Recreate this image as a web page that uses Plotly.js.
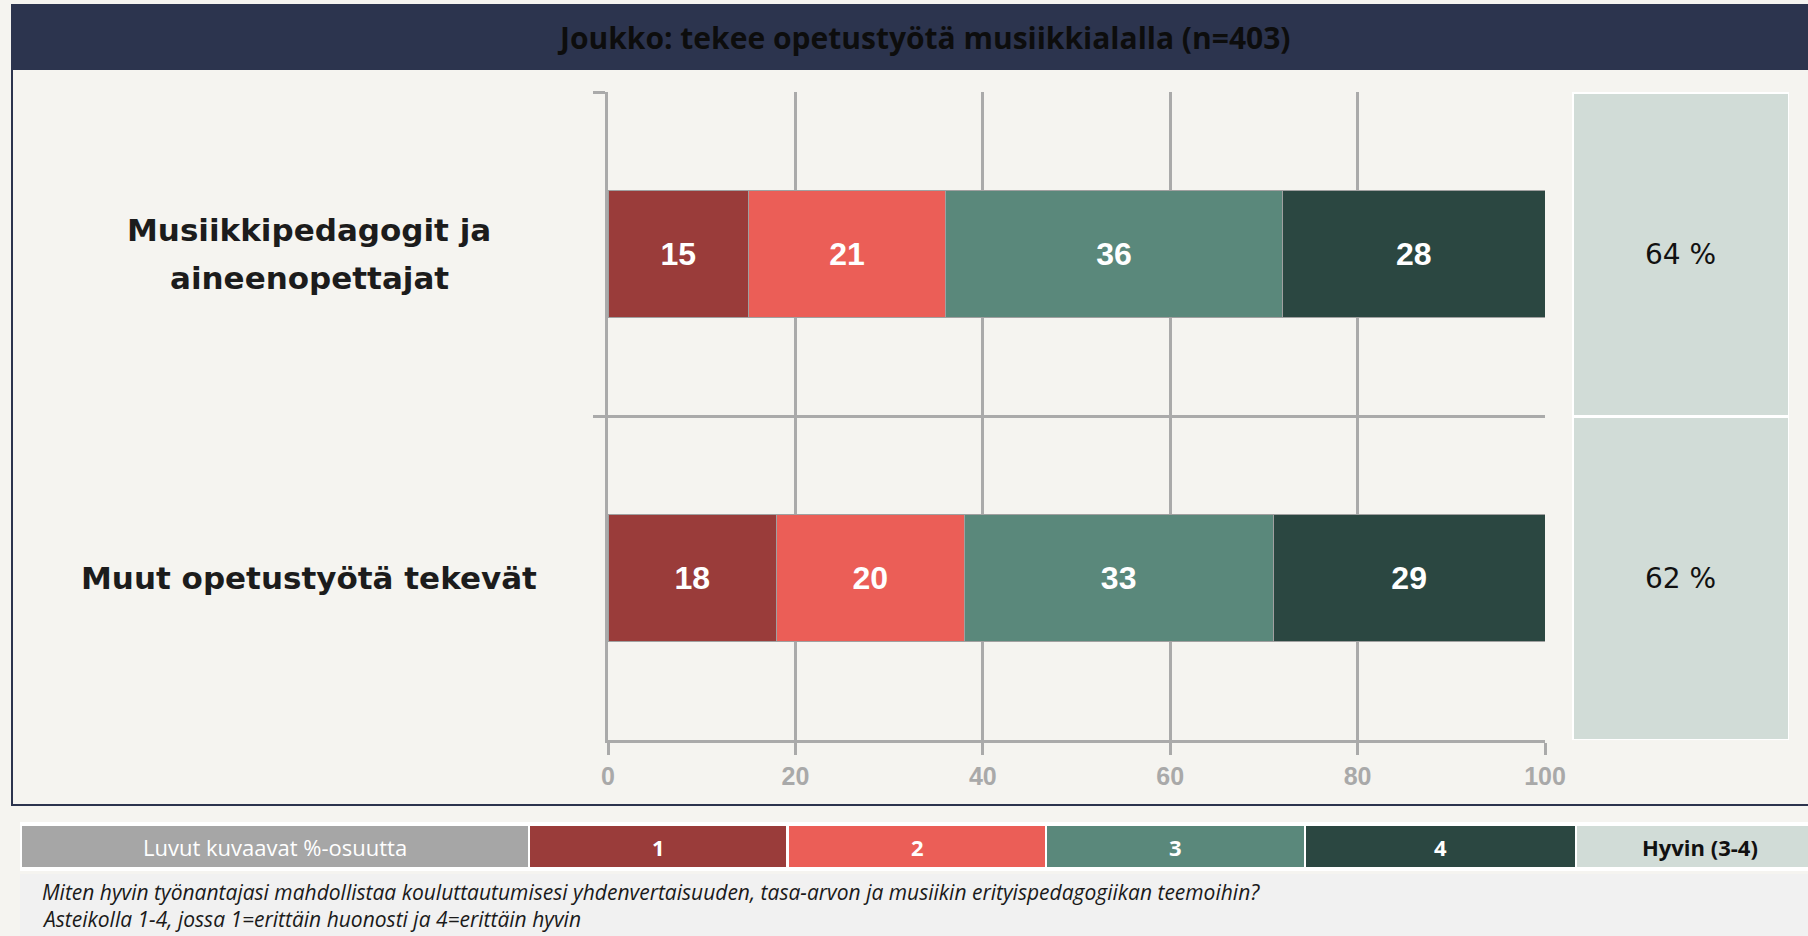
<!DOCTYPE html>
<html>
<head>
<meta charset="utf-8">
<script src="https://cdn.plot.ly/plotly-3.0.1.min.js"></script>
<style>
  html, body { margin: 0; padding: 0; background: #f5f4f0; }
  #chart { width: 1808px; height: 936px; }
</style>
</head>
<body>
<div id="chart"></div>
<script>
// ---- data ----
const chartTitle = 'Joukko: tekee opetustyötä musiikkialalla (n=403)';
const categories = ['Musiikkipedagogit ja<br>aineenopettajat', 'Muut opetustyötä tekevät'];
const seriesNames = ['1', '2', '3', '4'];
const values1 = [15, 18];
const values2 = [21, 20];
const values3 = [36, 33];
const values4 = [28, 29];
const hyvinValues = [64, 62];
const hyvinLabel = 'Hyvin (3-4)';
const xTickValues = [0, 20, 40, 60, 80, 100];
const legendCaption = 'Luvut kuvaavat %-osuutta';
const noteLines = [
  'Miten hyvin työnantajasi mahdollistaa kouluttautumisesi yhdenvertaisuuden, tasa-arvon ja musiikin erityispedagogiikan teemoihin?',
  'Asteikolla 1-4, jossa 1=erittäin huonosti ja 4=erittäin hyvin'
];

// ---- style ----
const W = 1808, H = 936;
const colors = ['#9a3c3a', '#eb5e57', '#5a887b', '#2b4741'];
const hyvinColor = '#d1dcd7';
const navy = '#2c344e';
const bg = '#f5f4f0';
const gridGray = '#aaaaaa';
const P = x => x / W;
const Q = y => 1 - y / H;

const seriesValues = [values1, values2, values3, values4];

const traces = seriesValues.map((vals, i) => ({
  type: 'bar',
  orientation: 'h',
  name: seriesNames[i],
  y: categories,
  x: vals,
  xaxis: 'x',
  yaxis: 'y',
  marker: { color: colors[i], line: { color: '#a0a0a0', width: 1 } },
  text: vals.map(v => String(v)),
  textposition: 'inside',
  insidetextanchor: 'middle',
  textangle: 0,
  textfont: { family: 'Liberation Sans Narrow, Liberation Sans, Arial, sans-serif', size: 32, color: '#ffffff', weight: 'bold' },
  hoverinfo: 'skip',
  showlegend: false
}));

// right-hand "Hyvin (3-4)" cells
traces.push({
  type: 'bar',
  orientation: 'h',
  y: categories,
  x: hyvinValues.map(() => 1),
  width: hyvinValues.map(() => 1),
  xaxis: 'x2',
  yaxis: 'y',
  marker: { color: hyvinColor, line: { color: '#ffffff', width: 3 } },
  text: hyvinValues.map(v => v + ' %'),
  textposition: 'inside',
  insidetextanchor: 'middle',
  textangle: 0,
  textfont: { family: 'DejaVu Sans, sans-serif', size: 28, color: '#111111' },
  hoverinfo: 'skip',
  showlegend: false
});

const shapes = [
  // outer frame
  { type: 'rect', xref: 'paper', yref: 'paper', x0: P(12), x1: P(1830), y0: Q(805), y1: Q(5),
    line: { color: navy, width: 2 }, fillcolor: bg, layer: 'below' },
  // header band
  { type: 'rect', xref: 'paper', yref: 'paper', x0: P(12), x1: P(1830), y0: Q(70), y1: Q(5),
    line: { width: 0 }, fillcolor: navy, layer: 'below' },
  // legend white band
  { type: 'rect', xref: 'paper', yref: 'paper', x0: P(20), x1: P(1830), y0: Q(871), y1: Q(822),
    line: { width: 0 }, fillcolor: '#ffffff', layer: 'below' },
  // notes box
  { type: 'rect', xref: 'paper', yref: 'paper', x0: P(20), x1: P(1830), y0: Q(940), y1: Q(874),
    line: { width: 0 }, fillcolor: '#f1f1f1', layer: 'below' }
];

// legend cells
const legendCells = [
  { x0: 22, x1: 528, color: '#a6a6a6', text: legendCaption, fc: '#ffffff', bold: false },
  { x0: 530, x1: 786, color: colors[0], text: seriesNames[0], fc: '#ffffff', bold: true },
  { x0: 789, x1: 1045, color: colors[1], text: seriesNames[1], fc: '#ffffff', bold: true },
  { x0: 1047, x1: 1304, color: colors[2], text: seriesNames[2], fc: '#ffffff', bold: true },
  { x0: 1306, x1: 1575, color: colors[3], text: seriesNames[3], fc: '#ffffff', bold: true },
  { x0: 1577, x1: 1830, color: hyvinColor, text: hyvinLabel, fc: '#111111', bold: true, cx: 1700 }
];

const annotations = [];

legendCells.forEach(c => {
  shapes.push({ type: 'rect', xref: 'paper', yref: 'paper', x0: P(c.x0), x1: P(c.x1), y0: Q(867), y1: Q(826),
    line: { width: 0 }, fillcolor: c.color, layer: 'below' });
  annotations.push({
    xref: 'paper', yref: 'paper', x: P(c.cx || (c.x0 + c.x1) / 2), y: Q(847),
    xanchor: 'center', yanchor: 'middle', showarrow: false, text: c.text,
    font: { family: 'Open Sans, sans-serif', size: 22, color: c.fc, weight: c.bold ? 'bold' : 'normal' }
  });
});

// title
annotations.push({
  xref: 'paper', yref: 'paper', x: P(924), y: Q(38), xanchor: 'center', yanchor: 'middle',
  showarrow: false, text: '<b>' + chartTitle + '</b>',
  font: { family: 'Open Sans, sans-serif', size: 30, color: '#0d0d0d' }
});

// category labels (centered, left of the axis)
categories.forEach(cat => {
  const lines = cat.split('<br>');
  const n = lines.length;
  lines.forEach((ln, i) => {
    annotations.push({
      xref: 'paper', yref: 'y', x: P(309), y: cat, xanchor: 'center', yanchor: 'middle',
      yshift: ((n - 1) / 2 - i) * 48,
      showarrow: false, text: ln,
      font: { family: 'DejaVu Sans, sans-serif', size: 31, color: '#1c1c1c', weight: 'bold' }
    });
  });
});

// notes
noteLines.forEach((ln, i) => {
  annotations.push({
    xref: 'paper', yref: 'paper', x: P(40), y: Q(892 + i * 27), xanchor: 'left', yanchor: 'middle',
    showarrow: false, text: '<i>' + ln + '</i>',
    font: { family: 'Open Sans, sans-serif', size: 21, color: '#1a1a1a' }
  });
});

const layout = {
  width: W, height: H,
  margin: { l: 0, r: 0, t: 0, b: 0 },
  paper_bgcolor: bg,
  plot_bgcolor: 'rgba(0,0,0,0)',
  barmode: 'stack',
  bargap: 0.605,
  showlegend: false,
  xaxis: {
    domain: [P(608), P(1545)],
    range: [0, 100],
    tickvals: xTickValues,
    ticktext: xTickValues.map(String),
    showgrid: true, gridcolor: gridGray, gridwidth: 3,
    zeroline: false,
    showline: true, linecolor: gridGray, linewidth: 3,
    ticks: 'outside', ticklen: 12, tickwidth: 3, tickcolor: gridGray,
    tickfont: { family: 'Liberation Sans, Arial, sans-serif', size: 25, color: '#a9a9a9', weight: 'bold' },
    fixedrange: true, anchor: 'y'
  },
  xaxis2: {
    domain: [P(1572), P(1789)],
    range: [0, 1],
    visible: false, showgrid: false, zeroline: false,
    fixedrange: true, anchor: 'y'
  },
  yaxis: {
    domain: [Q(740), Q(92)],
    type: 'category',
    autorange: 'reversed',
    tickson: 'boundaries',
    showgrid: true, gridcolor: gridGray, gridwidth: 3,
    zeroline: false,
    showline: true, linecolor: gridGray, linewidth: 3,
    ticks: 'outside', ticklen: 12, tickwidth: 3, tickcolor: gridGray,
    showticklabels: false,
    fixedrange: true
  },
  shapes: shapes,
  annotations: annotations
};

Plotly.newPlot('chart', traces, layout, { displayModeBar: false, staticPlot: true });
</script>
</body>
</html>
